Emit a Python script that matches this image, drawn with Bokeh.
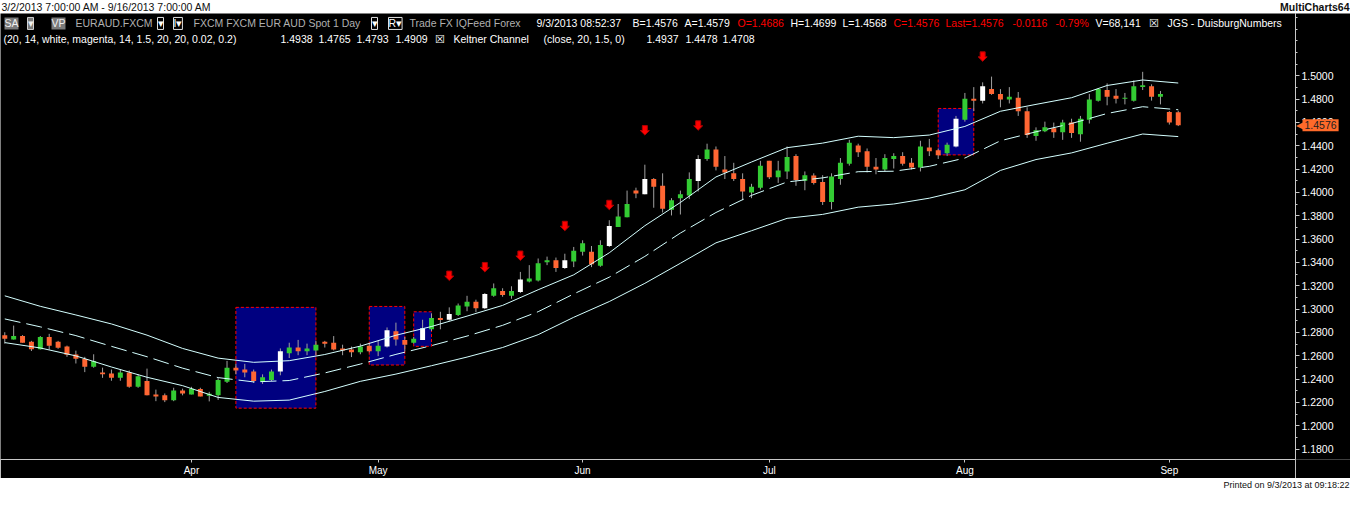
from bokeh.plotting import figure
from bokeh.models import (Range1d, LinearAxis, FixedTicker, PrintfTickFormatter,
                          ColumnDataSource, Label)
from bokeh.layouts import column, row
from bokeh.embed import file_html
from bokeh.resources import INLINE

# ---------------- data (EURAUD daily bars, bar index 0 = first bar) ----------------
bar_open = [1.2774, 1.2738, 1.2768, 1.2719, 1.2656, 1.2760, 1.2719, 1.2678, 1.2610, 1.2571,
            1.2506, 1.2456, 1.2448, 1.2410, 1.2456, 1.2333, 1.2383, 1.2268, 1.2260, 1.2218,
            1.2301, 1.2268, 1.2315, 1.2257, 1.2260, 1.2377, 1.2497, 1.2481, 1.2465, 1.2374,
            1.2391, 1.2465, 1.2621, 1.2670, 1.2637, 1.2645, 1.2719, 1.2711, 1.2662, 1.2653,
            1.2629, 1.2686, 1.2637, 1.2678, 1.2809, 1.2735, 1.2711, 1.2735, 1.2826, 1.2922,
            1.2908, 1.2948, 1.3022, 1.3063, 1.3006, 1.3113, 1.3154, 1.3113, 1.3146, 1.3236,
            1.3244, 1.3400, 1.3417, 1.3351, 1.3408, 1.3490, 1.3490, 1.3370, 1.3540, 1.3704,
            1.3786, 1.4015, 1.3983, 1.4114, 1.4056, 1.3851, 1.3950, 1.3974, 1.4097, 1.4286,
            1.4368, 1.4196, 1.4163, 1.4114, 1.3999, 1.4040, 1.4270, 1.4130, 1.4179, 1.4311,
            1.4100, 1.4144, 1.4089, 1.3917, 1.4114, 1.4245, 1.4401, 1.4352, 1.4220, 1.4196,
            1.4286, 1.4311, 1.4253, 1.4212, 1.4385, 1.4360, 1.4335, 1.4393, 1.4622, 1.4803,
            1.4786, 1.4885, 1.4844, 1.4795, 1.4811, 1.4696, 1.4483, 1.4524, 1.4549, 1.4516,
            1.4598, 1.4499, 1.4622, 1.4786, 1.4877, 1.4828, 1.4803, 1.4786, 1.4902, 1.4910,
            1.4819, 1.4688, 1.4686]
bar_high = [1.2801, 1.2858, 1.2776, 1.2727, 1.2768, 1.2787, 1.2727, 1.2686, 1.2643, 1.2590,
            1.2612, 1.2497, 1.2481, 1.2481, 1.2473, 1.2440, 1.2489, 1.2309, 1.2276, 1.2325,
            1.2317, 1.2333, 1.2325, 1.2290, 1.2407, 1.2555, 1.2530, 1.2530, 1.2481, 1.2440,
            1.2481, 1.2662, 1.2711, 1.2735, 1.2703, 1.2727, 1.2727, 1.2768, 1.2694, 1.2678,
            1.2703, 1.2703, 1.2727, 1.2842, 1.2883, 1.2760, 1.2760, 1.2908, 1.2963, 1.2976,
            1.3014, 1.3047, 1.3113, 1.3080, 1.3137, 1.3219, 1.3178, 1.3195, 1.3318, 1.3376,
            1.3433, 1.3449, 1.3441, 1.3474, 1.3532, 1.3589, 1.3540, 1.3589, 1.3761, 1.3900,
            1.4015, 1.4040, 1.4237, 1.4122, 1.4163, 1.3950, 1.4015, 1.4171, 1.4319, 1.4417,
            1.4393, 1.4311, 1.4253, 1.4163, 1.4073, 1.4270, 1.4270, 1.4270, 1.4393, 1.4327,
            1.4179, 1.4163, 1.4147, 1.4163, 1.4294, 1.4450, 1.4417, 1.4376, 1.4294, 1.4327,
            1.4335, 1.4344, 1.4294, 1.4442, 1.4458, 1.4376, 1.4426, 1.4655, 1.4852, 1.4902,
            1.4943, 1.4992, 1.4885, 1.4902, 1.4860, 1.4729, 1.4557, 1.4606, 1.4598, 1.4622,
            1.4631, 1.4655, 1.4844, 1.4893, 1.4934, 1.4885, 1.4852, 1.4959, 1.5033, 1.4926,
            1.4869, 1.4696, 1.4699]
bar_low = [1.2703, 1.2738, 1.2711, 1.2640, 1.2653, 1.2651, 1.2659, 1.2590, 1.2533, 1.2459,
           1.2497, 1.2410, 1.2385, 1.2385, 1.2325, 1.2325, 1.2260, 1.2210, 1.2202, 1.2210,
           1.2260, 1.2268, 1.2251, 1.2208, 1.2221, 1.2366, 1.2440, 1.2415, 1.2366, 1.2358,
           1.2383, 1.2432, 1.2580, 1.2604, 1.2604, 1.2604, 1.2670, 1.2645, 1.2604, 1.2588,
           1.2612, 1.2629, 1.2596, 1.2670, 1.2686, 1.2637, 1.2703, 1.2735, 1.2812, 1.2826,
           1.2899, 1.2940, 1.2981, 1.2973, 1.2998, 1.3105, 1.3105, 1.3088, 1.3137, 1.3228,
           1.3236, 1.3376, 1.3318, 1.3343, 1.3359, 1.3458, 1.3359, 1.3362, 1.3531, 1.3704,
           1.3786, 1.3950, 1.3983, 1.3868, 1.3827, 1.3802, 1.3810, 1.3942, 1.4007, 1.4270,
           1.4188, 1.4114, 1.4097, 1.3933, 1.3950, 1.4024, 1.4114, 1.4081, 1.4114, 1.4056,
           1.4018, 1.4067, 1.3892, 1.3854, 1.4065, 1.4229, 1.4303, 1.4171, 1.4155, 1.4179,
           1.4204, 1.4229, 1.4196, 1.4179, 1.4311, 1.4286, 1.4311, 1.4385, 1.4606, 1.4696,
           1.4762, 1.4836, 1.4729, 1.4762, 1.4655, 1.4467, 1.4442, 1.4516, 1.4467, 1.4450,
           1.4467, 1.4434, 1.4590, 1.4778, 1.4746, 1.4762, 1.4754, 1.4778, 1.4877, 1.4786,
           1.4754, 1.4581, 1.4568]
bar_close = [1.2746, 1.2768, 1.2711, 1.2656, 1.2760, 1.2686, 1.2667, 1.2607, 1.2574, 1.2506,
             1.2555, 1.2440, 1.2410, 1.2456, 1.2333, 1.2424, 1.2260, 1.2251, 1.2218, 1.2301,
             1.2276, 1.2317, 1.2251, 1.2274, 1.2391, 1.2497, 1.2473, 1.2456, 1.2383, 1.2415,
             1.2465, 1.2637, 1.2670, 1.2637, 1.2662, 1.2694, 1.2703, 1.2653, 1.2645, 1.2629,
             1.2678, 1.2637, 1.2686, 1.2817, 1.2738, 1.2694, 1.2746, 1.2836, 1.2922, 1.2905,
             1.2957, 1.3030, 1.3063, 1.3006, 1.3129, 1.3178, 1.3121, 1.3154, 1.3252, 1.3261,
             1.3392, 1.3417, 1.3351, 1.3417, 1.3499, 1.3564, 1.3384, 1.3548, 1.3712, 1.3794,
             1.3900, 1.3991, 1.4114, 1.4048, 1.3860, 1.3933, 1.3983, 1.4114, 1.4286, 1.4368,
             1.4220, 1.4171, 1.4114, 1.4007, 1.4048, 1.4229, 1.4130, 1.4188, 1.4303, 1.4106,
             1.4147, 1.4081, 1.3917, 1.4136, 1.4253, 1.4426, 1.4344, 1.4220, 1.4196, 1.4294,
             1.4311, 1.4245, 1.4212, 1.4393, 1.4352, 1.4319, 1.4409, 1.4631, 1.4803, 1.4786,
             1.4910, 1.4844, 1.4795, 1.4819, 1.4696, 1.4491, 1.4532, 1.4557, 1.4516, 1.4598,
             1.4508, 1.4631, 1.4795, 1.4885, 1.4819, 1.4803, 1.4811, 1.4910, 1.4918, 1.4819,
             1.4844, 1.4598, 1.4576]

# DuisburgNumbers signal bars (painted white), sell arrows and zones
white_bars = [31, 43, 47, 50, 54, 58, 63, 68, 72, 78, 107, 110]
arrow_bars = [50, 54, 58, 63, 68, 72, 78, 110]
arrow_tips = [1.3244, 1.3318, 1.3416, 1.3671, 1.3851, 1.4491, 1.4532, 1.5123]
box_start = [26, 41, 46, 105]
box_end = [35, 45, 48, 109]
box_top = [1.3014, 1.3022, 1.2976, 1.4719]
box_bottom = [1.2150, 1.2520, 1.2680, 1.4321]

# Keltner Channel (close, 20, 1.5, 0), read every 4 bars
kc_idx = [0, 4, 8, 12, 16, 20, 24, 28, 32, 36, 40, 44, 48, 52, 56, 60, 64,
          68, 72, 76, 80, 84, 88, 92, 96, 100, 104, 108, 112, 116, 120, 124, 128, 132]
kc_upper = [1.3113, 1.3023, 1.2949, 1.2872, 1.2776, 1.2662, 1.2579, 1.2543, 1.2557, 1.2610,
            1.2682, 1.2775, 1.2850, 1.2939, 1.3031, 1.3165, 1.3293, 1.3482, 1.3714, 1.3913,
            1.4132, 1.4260, 1.4383, 1.4422, 1.4481, 1.4469, 1.4491, 1.4565, 1.4695, 1.4754,
            1.4811, 1.4916, 1.4963, 1.4937]
kc_mid = [1.2915, 1.2847, 1.2772, 1.2680, 1.2591, 1.2493, 1.2412, 1.2375, 1.2387, 1.2452,
          1.2528, 1.2611, 1.2686, 1.2768, 1.2860, 1.2977, 1.3129, 1.3273, 1.3451, 1.3651,
          1.3827, 1.3974, 1.4089, 1.4124, 1.4177, 1.4181, 1.4223, 1.4294, 1.4442, 1.4519,
          1.4590, 1.4676, 1.4734, 1.4708]
kc_lower = [1.2712, 1.2666, 1.2598, 1.2503, 1.2415, 1.2343, 1.2242, 1.2210, 1.2219, 1.2293,
            1.2380, 1.2442, 1.2514, 1.2588, 1.2670, 1.2780, 1.2929, 1.3064, 1.3220, 1.3392,
            1.3567, 1.3671, 1.3777, 1.3811, 1.3873, 1.3900, 1.3950, 1.4022, 1.4188, 1.4281,
            1.4338, 1.4421, 1.4500, 1.4478]

month_idx = [21, 42, 65, 86, 108, 131]
month_labels = ["Apr", "May", "Jun", "Jul", "Aug", "Sep"]
price_ticks = [1.18, 1.20, 1.22, 1.24, 1.26, 1.28, 1.30, 1.32, 1.34, 1.36,
               1.38, 1.40, 1.42, 1.44, 1.46, 1.48, 1.50]
last_price = 1.4576

# ---------------- styling ----------------
W = 1350
TOP_H, MAIN_H, BOT_H = 13, 465, 13
AXIS_W = 55
CHART_W = W - AXIS_W
BOTTOM_BORDER = 17
X_LO, X_HI = -0.48, 145.19
Y_LO, Y_HI = 1.1710, 1.5533
GREEN, ORANGE, WHITE = "#33CC33", "#FF6633", "#FFFFFF"
WICK = "#A0A0A0"
KC_COLOR = "#D4FFFF"
AXIS_COLOR = "#C8C8C8"
FONT = "Liberation Sans"
FS = "10.5px"
yrange = Range1d(Y_LO, Y_HI)

# ---------------- top strip ----------------
top = figure(width=W, height=TOP_H, x_range=Range1d(0, W), y_range=Range1d(0, TOP_H),
             output_backend="svg", toolbar_location=None,
             x_axis_location=None, y_axis_location=None,
             background_fill_color="white", border_fill_color="white",
             outline_line_color=None, min_border=0)
top.grid.visible = False
top.add_layout(Label(x=1, y=TOP_H / 2, text="3/2/2013 7:00:00 AM - 9/16/2013 7:00:00 AM",
                     text_font=FONT, text_font_size=FS, text_color="#101010",
                     text_baseline="middle"))
top.add_layout(Label(x=W - 1, y=TOP_H / 2, text="MultiCharts64", text_font=FONT,
                     text_font_size=FS, text_font_style="bold", text_color="#101010",
                     text_align="right", text_baseline="middle"))

# ---------------- main chart ----------------
p = figure(width=CHART_W, height=MAIN_H, x_range=Range1d(X_LO, X_HI), y_range=yrange,
           output_backend="svg", toolbar_location=None,
           x_axis_location=None, y_axis_location=None,
           background_fill_color="black", border_fill_color="black",
           outline_line_color=None, min_border_left=0, min_border_top=0,
           min_border_right=0, min_border_bottom=BOTTOM_BORDER)
p.grid.visible = False

xaxis = LinearAxis(ticker=FixedTicker(ticks=month_idx, minor_ticks=[]),
                   major_label_overrides={i: m for i, m in zip(month_idx, month_labels)})
xaxis.axis_line_color = AXIS_COLOR
xaxis.major_tick_line_color = AXIS_COLOR
xaxis.major_tick_in = 0
xaxis.major_tick_out = 3
xaxis.major_label_standoff = 2
xaxis.major_label_text_color = "white"
xaxis.major_label_text_font = FONT
xaxis.major_label_text_font_size = "10px"
p.add_layout(xaxis, "below")

# zones
p.quad(left=box_start, right=box_end, top=box_top, bottom=box_bottom,
       fill_color="#000080", line_color="#FF0000", line_dash="3 2", line_width=1)

# candles
n = len(bar_open)
idx = list(range(n))
px_y = (Y_HI - Y_LO) / (MAIN_H - BOTTOM_BORDER)
tops, bots, colors = [], [], []
for i in range(n):
    o, c = bar_open[i], bar_close[i]
    t, b = max(o, c), min(o, c)
    if t - b < px_y:
        m = (t + b) / 2
        t, b = m + px_y / 2, m - px_y / 2
    tops.append(t)
    bots.append(b)
    if i in white_bars:
        colors.append(WHITE)
    elif c >= o:
        colors.append(GREEN)
    else:
        colors.append(ORANGE)
src = ColumnDataSource(dict(x=idx, high=bar_high, low=bar_low, top=tops, bottom=bots, color=colors))
p.segment(x0="x", y0="low", x1="x", y1="high", line_color=WICK, line_width=1, source=src)
p.vbar(x="x", width=0.56, top="top", bottom="bottom", fill_color="color",
       line_color=None, source=src)

# Keltner channel
p.line(kc_idx, kc_upper, line_color=KC_COLOR, line_width=1)
p.line(kc_idx, kc_mid, line_color=KC_COLOR, line_width=1, line_dash="16 6")
p.line(kc_idx, kc_lower, line_color=KC_COLOR, line_width=1)

# sell arrows (shape in pixels, converted to data units)
ux = (X_HI - X_LO) / CHART_W
shape = [(0, 0), (4.5, 4.5), (2.5, 4.5), (2.5, 9.5), (-2.5, 9.5), (-2.5, 4.5), (-4.5, 4.5)]
axs = [[b + sx * ux for sx, sy in shape] for b in arrow_bars]
ays = [[t + sy * px_y for sx, sy in shape] for t in arrow_tips]
p.patches(axs, ays, fill_color="#FF0000", line_color="#B00000", line_width=1)

# header rows
ROW1 = Y_HI - 10 * px_y
ROW2 = Y_HI - 26 * px_y
def hdr(x, y, text, color, bg=None, border=None):
    p.add_layout(Label(x=x, x_units="screen", y=y, y_units="data", text=text,
                       text_color=color, text_font=FONT, text_font_size=FS,
                       text_baseline="middle", background_fill_color=bg,
                       border_line_color=border))

GREY_T = "#B0B0B0"
hdr(4, ROW1, "SA", "#F0F0F0", bg="#7A7A7A")
hdr(27, ROW1, "\u25BE", "#F0F0F0", bg="#7A7A7A", border="#D0D0D0")
hdr(51, ROW1, "VP", "#F0F0F0", bg="#7A7A7A")
hdr(75, ROW1, "EURAUD.FXCM", GREY_T)
hdr(157, ROW1, "\u25BE", "white", border="#E0E0E0")
hdr(173, ROW1, "I\u25BE", "white", border="#E0E0E0")
hdr(193, ROW1, "FXCM FXCM EUR AUD Spot  1 Day", GREY_T)
hdr(371, ROW1, "\u25BE", "white", border="#E0E0E0")
hdr(388, ROW1, "R\u25BE", "white", border="#E0E0E0")
hdr(409, ROW1, "Trade FX IQFeed Forex", GREY_T)
hdr(536, ROW1, "9/3/2013 08:52:37", "white")
hdr(632, ROW1, "B=1.4576", "white")
hdr(684, ROW1, "A=1.4579", "white")
hdr(737, ROW1, "O=1.4686", "#FF0000")
hdr(790, ROW1, "H=1.4699", "white")
hdr(842, ROW1, "L=1.4568", "white")
hdr(893, ROW1, "C=1.4576", "#FF0000")
hdr(945, ROW1, "Last=1.4576", "#FF0000")
hdr(1012, ROW1, "-0.0116", "#FF0000")
hdr(1055, ROW1, "-0.79%", "#FF0000")
hdr(1095, ROW1, "V=68,141", "white")
hdr(1148, ROW1, "\u2612", "white")
hdr(1167, ROW1, "JGS - DuisburgNumbers", "white")

hdr(3, ROW2, "(20, 14, white, magenta, 14, 1.5, 20, 20, 0.02, 0.2)", "white")
hdr(280, ROW2, "1.4938", "white")
hdr(318, ROW2, "1.4765", "white")
hdr(356, ROW2, "1.4793", "white")
hdr(395, ROW2, "1.4909", "white")
hdr(434, ROW2, "\u2612", "white")
hdr(453, ROW2, "Keltner Channel", "white")
hdr(543, ROW2, "(close, 20, 1.5, 0)", "white")
hdr(646, ROW2, "1.4937", "white")
hdr(685, ROW2, "1.4478", "white")
hdr(722, ROW2, "1.4708", "white")

# ---------------- price scale (right of the chart, shares the price range) ----------------
side = figure(width=AXIS_W, height=MAIN_H, x_range=Range1d(0, AXIS_W), y_range=yrange,
              output_backend="svg", toolbar_location=None,
              x_axis_location=None, y_axis_location=None,
              background_fill_color="black", border_fill_color="black",
              outline_line_color=None, min_border_left=0, min_border_top=0,
              min_border_right=0, min_border_bottom=BOTTOM_BORDER)
side.grid.visible = False
minor = [round(1.17 + 0.01 * k, 2) for k in range(39)]
yaxis = LinearAxis(ticker=FixedTicker(ticks=price_ticks, minor_ticks=minor),
                   formatter=PrintfTickFormatter(format="%.4f"))
yaxis.axis_line_color = AXIS_COLOR
yaxis.major_tick_line_color = AXIS_COLOR
yaxis.minor_tick_line_color = AXIS_COLOR
yaxis.major_tick_in = 4
yaxis.major_tick_out = 0
yaxis.minor_tick_in = 2
yaxis.minor_tick_out = 0
yaxis.major_label_standoff = -38
yaxis.major_label_text_color = "white"
yaxis.major_label_text_font = FONT
yaxis.major_label_text_font_size = FS
side.add_layout(yaxis, "left")

# last price tag
side.add_layout(Label(x=0, y=last_price, text="\u25C0", text_color="#FF6A2A",
                      text_font_size="12px", text_baseline="middle"))
side.add_layout(Label(x=7, y=last_price, text="1.4576", text_color="#202020",
                      text_font=FONT, text_font_size=FS, text_baseline="middle",
                      background_fill_color="#FF6A2A", padding=2))

# ---------------- bottom strip ----------------
bot = figure(width=W, height=BOT_H, x_range=Range1d(0, W), y_range=Range1d(0, BOT_H),
             output_backend="svg", toolbar_location=None,
             x_axis_location=None, y_axis_location=None,
             background_fill_color="white", border_fill_color="white",
             outline_line_color=None, min_border=0)
bot.grid.visible = False
bot.add_layout(Label(x=W - 1, y=BOT_H / 2, text="Printed on 9/3/2013 at 09:18:22",
                     text_font=FONT, text_font_size="9px",
                     text_color="#101010", text_align="right", text_baseline="middle"))

layout = column(top, row(p, side, spacing=0), bot, spacing=0)
open("out.html", "w").write(file_html(layout, INLINE))
